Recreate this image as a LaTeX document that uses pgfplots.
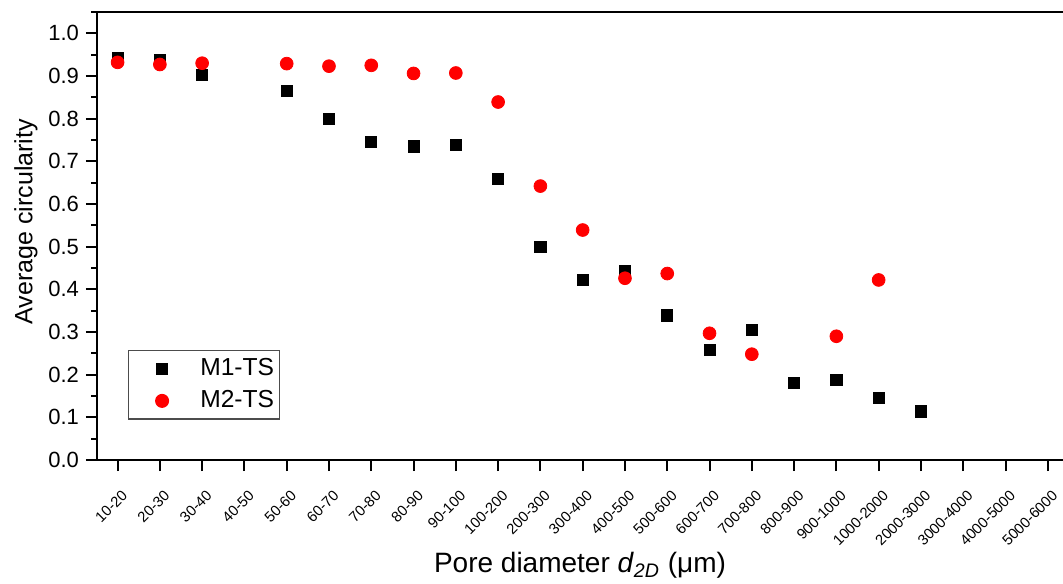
\documentclass[border=0pt]{standalone}
\usepackage{fontspec}
\setmainfont{Liberation Sans}
\usepackage{pgfplots}
\pgfplotsset{compat=1.18}

\begin{document}
\begin{tikzpicture}
\begin{axis}[
    scale only axis,
    width=483pt, height=224pt,
    xmin=-0.487, xmax=22.36,
    ymin=0, ymax=1.05,
    axis x line*=box, axis y line*=left,
    axis line style={-, line width=1pt},
    xtick pos=bottom,
    tick align=outside,
    tick style={black, line width=1pt},
    major tick length=5.5pt, minor tick length=2.8pt,
    xtick={0,...,22},
    xticklabels={10-20,20-30,30-40,40-50,50-60,60-70,70-80,80-90,90-100,100-200,200-300,300-400,400-500,500-600,600-700,700-800,800-900,900-1000,1000-2000,2000-3000,3000-4000,4000-5000,5000-6000},
    xticklabel style={font=\fontsize{7.4}{8}\selectfont, xshift=6pt, yshift=-8.5pt, rotate=45, anchor=east},
    ytick distance=0.1,
    minor y tick num=1,
    yticklabel style={font=\fontsize{11}{12}\selectfont, /pgf/number format/.cd, fixed, fixed zerofill, precision=1, assume math mode=true},
    xlabel={Pore diameter \textit{d}\textsubscript{\textit{2D}} (μm)},
    ylabel={Average circularity},
    xlabel style={font=\fontsize{14}{16}\selectfont, at={(axis description cs:0.5,-0.236)}, anchor=center},
    ylabel style={font=\fontsize{12.5}{14}\selectfont, at={(axis description cs:-0.0735,0.532)}, anchor=center},
    legend style={at={(axis description cs:0.032,0.2455)}, anchor=north west,
        draw=black!70, line width=0.6pt, inner xsep=0pt, inner ysep=2pt,
        font=\fontsize{12.3}{14}\selectfont, row sep=2pt,
        nodes={inner xsep=2.5pt, inner ysep=2pt}},
    legend cell align=left,
    legend image code/.code={\path (-16.5pt,0pt) (16.3pt,0pt); \draw[mark repeat=1,#1] plot coordinates {(0pt,0pt)};},
]
\addplot[only marks, mark=square*, mark size=2.8pt, black] coordinates {
    (0,0.942) (1,0.937) (2,0.902) (4,0.866) (5,0.800) (6,0.745) (7,0.735)
    (8,0.738) (9,0.659) (10,0.499) (11,0.423) (12,0.443) (13,0.339)
    (14,0.258) (15,0.304) (16,0.180) (17,0.187) (18,0.145) (19,0.114)
};
\addplot[only marks, mark=*, mark size=3.2pt, red, mark options={draw=red, fill=red}] coordinates {
    (0,0.932) (1,0.927) (2,0.930) (4,0.929) (5,0.923) (6,0.925) (7,0.906)
    (8,0.907) (9,0.839) (10,0.642) (11,0.539) (12,0.426) (13,0.437)
    (14,0.297) (15,0.248) (17,0.290) (18,0.422)
};
\legend{M1-TS, M2-TS}
\coordinate (bbl) at (axis description cs:-0.1004,-0.2746);
\coordinate (btr) at (axis description cs:1,1.0268);
\end{axis}
\pgfresetboundingbox
\path (bbl) rectangle (btr);
\end{tikzpicture}
\end{document}
